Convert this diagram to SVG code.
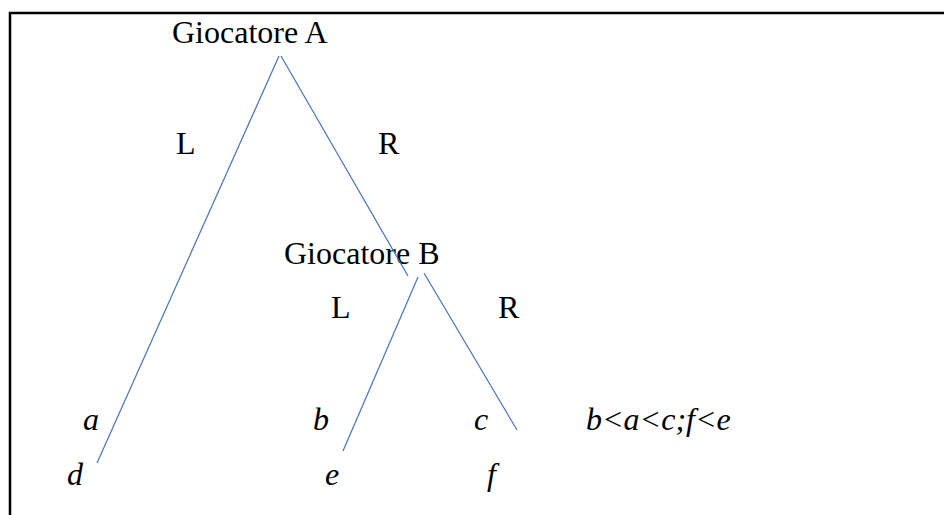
<svg xmlns="http://www.w3.org/2000/svg" width="944" height="515" viewBox="0 0 944 515">
<style>
text{font-family:"Liberation Serif","Times New Roman",serif;font-size:32px;fill:#000}
.i{font-style:italic}
.e{stroke:#4472C4;stroke-width:1.2;fill:none}
</style>
<rect width="944" height="515" fill="#fff"/>
<path d="M10 515V13H944" fill="none" stroke="#000" stroke-width="2.5"/>
<g id="nodeA"><text x="172" y="43">Giocatore A</text></g>
<g id="nodeB"><text x="284" y="264">Giocatore B</text></g>
<g id="labels">
<text x="176" y="154">L</text>
<text x="378" y="154">R</text>
<text x="331" y="318">L</text>
<text x="498" y="318">R</text>
</g>
<g id="leafAL"><text class="i" x="83" y="430">a</text><text class="i" x="67" y="485">d</text></g>
<g id="leafBL"><text class="i" x="313" y="430">b</text><text class="i" x="325" y="485">e</text></g>
<g id="leafBR"><text class="i" x="474" y="430">c</text><text class="i" x="487" y="485">f</text></g>
<g id="note"><text class="i" x="586" y="430">b&lt;a&lt;c;f&lt;e</text></g>
<g id="connectors">
<line class="e" x1="279" y1="56" x2="97" y2="463"/>
<line class="e" x1="281" y1="56" x2="408" y2="276"/>
<line class="e" x1="418" y1="277" x2="343" y2="451"/>
<line class="e" x1="424" y1="273" x2="517" y2="430"/>
</g>
</svg>
